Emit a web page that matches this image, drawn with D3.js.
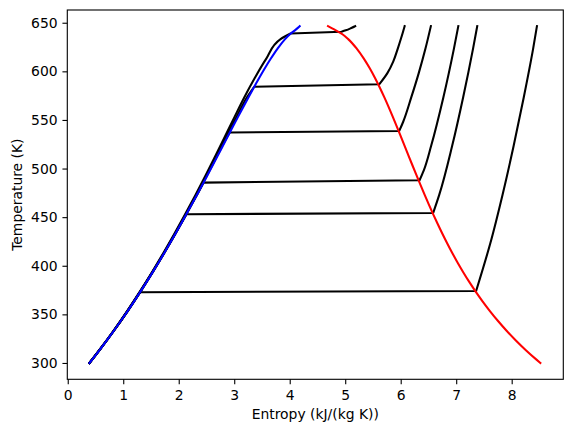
<!DOCTYPE html>
<html><head><meta charset="utf-8">
<script src="https://cdn.jsdelivr.net/npm/d3@7"></script>
<style>
body{margin:0;background:#fff}
svg{display:block}
text{font-family:"DejaVu Sans",sans-serif;fill:#000}
</style>
</head><body>
<svg id="chart" width="572" height="433"></svg>
<script>
// ---------- data (entropy in kJ/(kg K), temperature in K) ----------
const xTicks = [0, 1, 2, 3, 4, 5, 6, 7, 8];
const yTicks = [300, 350, 400, 450, 500, 550, 600, 650];

// saturation dome
const satT = [300, 303.15, 313.15, 323.15, 333.15, 343.15, 353.15, 363.15, 373.15, 383.15,
  393.15, 403.15, 413.15, 423.15, 433.15, 443.15, 453.15, 463.15, 473.15, 483.15,
  493.15, 503.15, 513.15, 523.15, 533.15, 543.15, 553.15, 563.15, 573.15, 583.15,
  593.15, 603.15, 613.15, 623.15, 633.15, 638.15, 643.15, 646.5];
const satLiquidS = [0.3931, 0.4368, 0.5724, 0.7038, 0.8313, 0.9551, 1.0756, 1.1929, 1.3072, 1.4188,
  1.5279, 1.6346, 1.7392, 1.8418, 1.9426, 2.0417, 2.1392, 2.2355, 2.3305, 2.4245,
  2.5177, 2.6101, 2.7020, 2.7935, 2.8849, 2.9765, 3.0685, 3.1612, 3.2552, 3.3510,
  3.4494, 3.5518, 3.6601, 3.7784, 3.9167, 4.0040, 4.1142, 4.18];
const satVaporS = [8.517, 8.4520, 8.2556, 8.0748, 7.9081, 7.7540, 7.6111, 7.4781, 7.3542, 7.2382,
  7.1292, 7.0264, 6.9293, 6.8371, 6.7491, 6.6650, 6.5840, 6.5059, 6.4302, 6.3563,
  6.2840, 6.2128, 6.1423, 6.0721, 6.0016, 5.9304, 5.8579, 5.7834, 5.7059, 5.6244,
  5.5372, 5.4422, 5.3356, 5.2110, 5.0536, 4.9497, 4.8012, 4.69];

// isobars (bar)
const isoPressures = [1, 10, 20, 50, 100, 200];
const liquidGridT = [300, 313.15, 333.15, 353.15, 373.15, 393.15, 413.15, 433.15, 453.15,
  473.15, 493.15, 513.15, 533.15, 553.15, 573.15, 593.15, 613.15, 633.15];
const isoTsat = [372.76, 453.03, 485.53, 537.09, 584.15, 638.90];
const isoSf = [1.3028, 2.1387, 2.4470, 2.9206, 3.3603, 4.0146];

const liqS_1 = [0.3930, 0.5724, 0.8313, 1.0756];
const liqS_10 = [0.3930, 0.5722, 0.8311, 1.0754, 1.3069, 1.5275, 1.7388, 1.9423];
const liqS_20 = [0.3929, 0.5720, 0.8308, 1.0751, 1.3065, 1.5271, 1.7383, 1.9418, 2.1389, 2.3300];
const liqS_50 = [0.3926, 0.5712, 0.8297, 1.0738, 1.3050, 1.5254, 1.7362, 1.9393, 2.1358, 2.3263,
  2.5110, 2.6915, 2.8790];
const liqS_100 = [0.3920, 0.5698, 0.8278, 1.0716, 1.3021, 1.5218, 1.7317, 1.9339, 2.1290, 2.3177,
  2.5015, 2.6819, 2.8611, 3.0418, 3.2275];
const liqS_200 = [0.3905, 0.5672, 0.8241, 1.0668, 1.2962, 1.5148, 1.7236, 1.9241, 2.1175, 2.3044,
  2.4856, 2.6621, 2.8350, 3.0061, 3.1804, 3.3700, 3.5780, 3.8350];

const vapT_1 = [374.1, 423.15, 473.15, 523.15, 573.15, 623.15, 646.5];
const vapS_1 = [7.3589, 7.6148, 7.8356, 8.0346, 8.2171, 8.3858, 8.455];
const vapT_10 = [454.3, 473.15, 523.15, 573.15, 623.15, 646.5];
const vapS_10 = [6.5850, 6.6955, 6.9265, 7.1246, 7.3029, 7.379];
const vapT_20 = [487.9, 498.15, 523.15, 573.15, 623.15, 646.5];
const vapS_20 = [6.3390, 6.4160, 6.5475, 6.7684, 6.9583, 7.038];
const vapT_50 = [538.7, 548.15, 573.15, 598.15, 623.15, 646.5];
const vapS_50 = [5.9737, 6.045, 6.190, 6.325, 6.445, 6.5435];
const vapT_100 = [586.8, 598.15, 610, 623.15, 635, 646.5];
const vapS_100 = [5.6159, 5.760, 5.865, 5.946, 6.012, 6.071];
const vapT_200 = [640.8, 642.2, 644.9, 646.5];
const vapS_200 = [4.9330, 5.01, 5.12, 5.18];

const liqSets = [liqS_1, liqS_10, liqS_20, liqS_50, liqS_100, liqS_200];
const vapTSets = [vapT_1, vapT_10, vapT_20, vapT_50, vapT_100, vapT_200];
const vapSSets = [vapS_1, vapS_10, vapS_20, vapS_50, vapS_100, vapS_200];

// ---------- layout ----------
const W = 572, H = 433;
const L = 67.3, R = 563.3, TOP = 10, B = 379.3;
const FS = 13.9, TICK = 4.86, LW = 2.08, SPINE = 1.11;

const x = d3.scaleLinear().domain([-0.008, 8.930]).range([L, R]);
const y = d3.scaleLinear().domain([283.2, 663.1]).range([B, TOP]);

const svg = d3.select("#chart");
svg.append("rect").attr("width", W).attr("height", H).attr("fill", "#fff");

const line = d3.line().x(d => x(d[0])).y(d => y(d[1])).curve(d3.curveMonotoneY);

const gLines = svg.append("g").attr("fill", "none")
  .attr("stroke-width", LW).attr("stroke-linejoin", "round").attr("stroke-linecap", "square");

// isobars
isoPressures.forEach((p, i) => {
  const liq = liqSets[i].map((s, k) => [s, liquidGridT[k]]);
  liq.push([isoSf[i], isoTsat[i]]);
  const vap = vapSSets[i].map((s, k) => [s, vapTSets[i][k]]);
  const d = line(liq) + line(vap).replace(/^M/, "L");
  gLines.append("path").attr("d", d).attr("stroke", "#000");
});

// saturated liquid
gLines.append("path")
  .attr("d", line(satLiquidS.map((s, k) => [s, satT[k]])))
  .attr("stroke", "#0000ff");
// saturated vapour
gLines.append("path")
  .attr("d", line(satVaporS.map((s, k) => [s, satT[k]])))
  .attr("stroke", "#ff0000");

// axes
const xAxis = d3.axisBottom(x).tickValues(xTicks).tickFormat(d3.format("d"))
  .tickSize(TICK).tickSizeOuter(0).tickPadding(5.9);
const gx = svg.append("g").attr("transform", `translate(0,${B})`).call(xAxis);
const yAxis = d3.axisLeft(y).tickValues(yTicks).tickFormat(d3.format("d"))
  .tickSize(TICK).tickSizeOuter(0).tickPadding(4.86);
const gy = svg.append("g").attr("transform", `translate(${L},0)`).call(yAxis);
[gx, gy].forEach(g => {
  g.select(".domain").remove();
  g.selectAll("line").attr("stroke", "#000").attr("stroke-width", SPINE);
  g.selectAll("text").attr("font-size", FS).attr("font-family", "DejaVu Sans").attr("fill", "#000");
});

// frame
svg.append("rect").attr("x", L).attr("y", TOP).attr("width", R - L).attr("height", B - TOP)
  .attr("fill", "none").attr("stroke", "#000").attr("stroke-width", SPINE);

// axis labels
svg.append("text").attr("x", (L + R) / 2).attr("y", 418.5).attr("text-anchor", "middle")
  .attr("font-size", FS).text("Entropy (kJ/(kg K))");
svg.append("text").attr("transform", `translate(22,${(TOP + B) / 2}) rotate(-90)`)
  .attr("text-anchor", "middle").attr("font-size", FS).text("Temperature (K)");
</script>
</body></html>
